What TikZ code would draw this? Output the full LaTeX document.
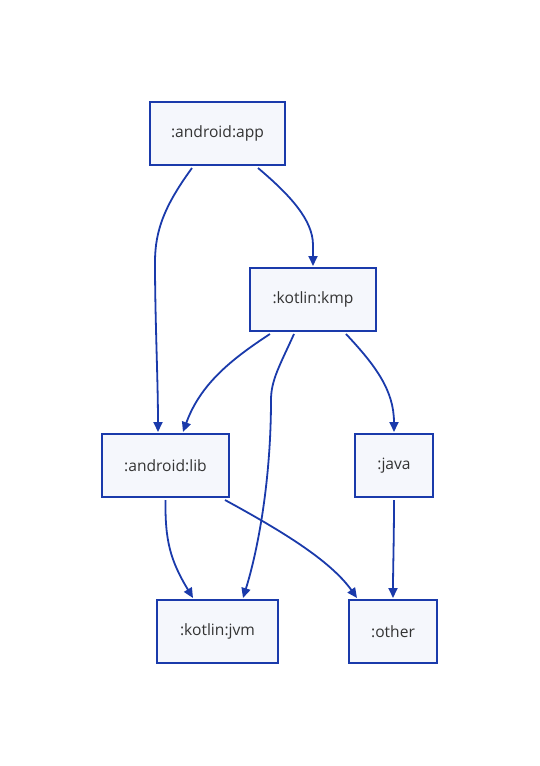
\documentclass[tikz,border=0pt]{standalone}
\usepackage{fontspec}
\setmainfont{Open Sans}
\usetikzlibrary{arrows.meta,calc}
\definecolor{edgeblue}{HTML}{1A3AAB}
\definecolor{boxfill}{HTML}{F5F7FC}
\definecolor{labeltext}{HTML}{333333}
\begin{document}
\begin{tikzpicture}[x=1pt,y=-1pt,
  box/.style={draw=edgeblue,fill=boxfill,line width=2pt,minimum height=63pt,inner sep=0pt,font=\fontsize{15.6}{18}\selectfont,text=labeltext},
  link/.style={draw=edgeblue,line width=1.8pt,-{Triangle[length=10pt,width=9pt]}}]
\useasboundingbox (0,0) rectangle (539,766);
\node[box,minimum width=135pt] (app) at (217.5,133.5) {:android:app};
\node[box,minimum width=126pt] (kmp) at (313,299.5) {:kotlin:kmp};
\node[box,minimum width=127pt] (lib) at (165.5,465.5) {:android:lib};
\node[box,minimum width=78pt] (java) at (394,465.5) {:java};
\node[box,minimum width=121pt] (jvm) at (217.5,631.5) {:kotlin:jvm};
\node[box,minimum width=88pt] (other) at (393,631.5) {:other};
% app -> lib
\draw[link] ($(app.south)+(-25.5,2)$) .. controls (165,205) and (155,230) .. (155,262)
  .. controls (155,320) and (158,380) .. ($(lib.north)+(-7.5,-1)$);
% app -> kmp
\draw[link] ($(app.south)+(40.5,2)$) .. controls (290,195) and (313,220) .. (313,245)
  -- ($(kmp.north)+(0,-1)$);
% kmp -> lib
\draw[link] ($(kmp.south)+(-43,2)$) .. controls (230,360) and (200,385) .. ($(lib.north)+(17.5,-1)$);
% kmp -> jvm
\draw[link] ($(kmp.south)+(-19,2)$) .. controls (280,365) and (271,380) .. (271,400)
  .. controls (271,480) and (258,550) .. ($(jvm.north)+(25.5,-1)$);
% kmp -> java
\draw[link] ($(kmp.south)+(33,2)$) .. controls (375,365) and (394,390) .. ($(java.north)+(0,-1)$);
% lib -> jvm
\draw[link] ($(lib.south)+(0,2)$) .. controls (165,540) and (170,560) .. ($(jvm.north)+(-24.5,-1)$);
% lib -> other
\draw[link] ($(lib.south)+(59.5,2)$) .. controls (280,530) and (330,560) .. ($(other.north)+(-36,-1)$);
% java -> other
\draw[link] ($(java.south)+(0,2)$) .. controls (394,540) and (393,570) .. ($(other.north)+(0,-1)$);
\end{tikzpicture}
\end{document}
